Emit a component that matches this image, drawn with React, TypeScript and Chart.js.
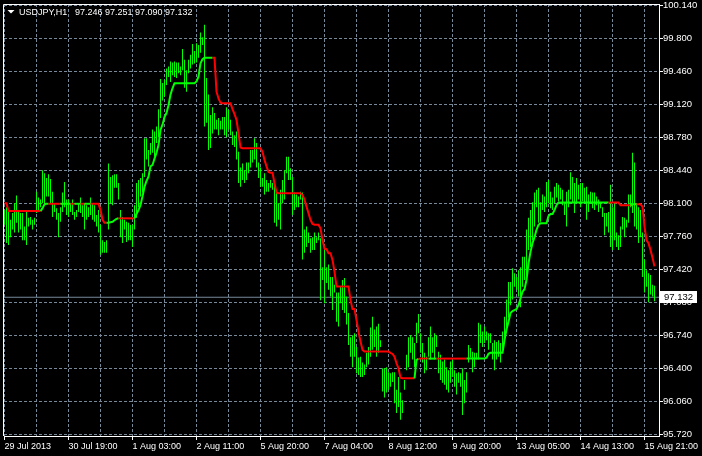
import React, { useEffect, useRef } from 'react';
import { Chart, registerables } from 'chart.js';

Chart.register(...registerables);

// ---------- data ----------
const SYMBOL = 'USDJPY,H1';
const LAST_OHLC = ['97.246', '97.251', '97.090', '97.132'];
const CURRENT_PRICE = 97.132;

const X_LABELS = [
  '29 Jul 2013', '30 Jul 19:00', '1 Aug 03:00', '2 Aug 11:00', '5 Aug 20:00', '7 Aug 04:00',
  '8 Aug 12:00', '9 Aug 20:00', '13 Aug 05:00', '14 Aug 13:00', '15 Aug 21:00',
];
const BARS_PER_LABEL = 32;
const BARS_PER_GRID = 16;

const Y_TICKS = [95.72, 96.06, 96.40, 96.74, 97.08, 97.42, 97.76, 98.10, 98.44, 98.78, 99.12, 99.46, 99.80, 100.14];

const HIGH = [
  98.03, 98.06, 98.01, 97.93, 98.00, 98.10, 98.18, 98.03, 98.00, 98.00,
  97.86, 98.01, 97.95, 97.96, 97.93, 97.95, 98.22, 98.16, 98.14, 98.44,
  98.41, 98.36, 98.40, 98.35, 98.22, 98.10, 98.05, 98.00, 98.06, 98.21,
  98.32, 98.14, 98.14, 98.10, 98.14, 98.01, 98.03, 98.10, 98.16, 98.08,
  98.10, 98.08, 98.06, 98.16, 98.10, 98.08, 97.98, 98.03, 97.88, 97.72,
  97.70, 97.72, 98.51, 98.37, 98.39, 98.40, 98.40, 98.31, 98.03, 97.96,
  97.93, 97.91, 97.90, 97.88, 97.88, 98.08, 98.31, 98.34, 98.36, 98.41,
  98.77, 98.77, 98.65, 98.72, 98.86, 98.84, 98.89, 99.07, 99.38, 99.34,
  99.37, 99.49, 99.51, 99.56, 99.55, 99.56, 99.55, 99.55, 99.51, 99.69,
  99.58, 99.47, 99.58, 99.63, 99.74, 99.67, 99.75, 99.73, 99.86, 99.81,
  99.94, 99.39, 99.22, 99.01, 99.09, 99.03, 98.96, 98.98, 98.95, 98.99,
  98.99, 99.09, 99.06, 98.96, 98.84, 98.80, 98.84, 98.63, 98.47, 98.51,
  98.44, 98.52, 98.52, 98.65, 98.65, 98.77, 98.72, 98.52, 98.47, 98.36,
  98.41, 98.34, 98.31, 98.34, 98.31, 98.32, 98.21, 98.10, 98.24, 98.34,
  98.44, 98.58, 98.58, 98.46, 98.37, 98.21, 98.19, 98.17, 98.22, 98.21,
  97.83, 97.86, 97.80, 97.74, 97.75, 97.80, 97.75, 97.80, 97.74, 97.44,
  97.62, 97.44, 97.47, 97.34, 97.34, 97.26, 97.18, 97.18, 97.24, 97.31,
  97.33, 97.14, 96.97, 96.72, 96.74, 96.76, 96.62, 96.51, 96.52, 96.46,
  96.44, 96.56, 96.62, 96.82, 96.93, 96.80, 96.83, 96.86, 96.69, 96.40,
  96.40, 96.41, 96.36, 96.35, 96.36, 96.36, 96.18, 96.31, 96.15, 96.07,
  96.28, 96.54, 96.72, 96.74, 96.72, 96.66, 96.87, 96.96, 96.76, 96.66,
  96.56, 96.52, 96.72, 96.83, 96.72, 96.76, 96.74, 96.57, 96.54, 96.47,
  96.49, 96.41, 96.38, 96.47, 96.49, 96.38, 96.35, 96.36, 96.35, 96.40,
  96.28, 96.36, 96.64, 96.61, 96.57, 96.56, 96.56, 96.87, 96.85, 96.78,
  96.83, 96.78, 96.76, 96.76, 96.66, 96.69, 96.67, 96.69, 96.66, 96.78,
  96.93, 97.11, 97.29, 97.29, 97.43, 97.38, 97.34, 97.41, 97.44, 97.55,
  97.55, 97.83, 97.95, 98.03, 98.11, 98.21, 98.24, 98.26, 98.11, 98.19,
  98.17, 98.32, 98.34, 98.22, 98.16, 98.27, 98.31, 98.29, 98.26, 98.24,
  98.11, 98.22, 98.24, 98.42, 98.37, 98.31, 98.36, 98.29, 98.31, 98.31,
  98.26, 98.27, 98.19, 98.22, 98.21, 98.21, 98.17, 98.14, 98.11, 98.06,
  98.00, 98.00, 98.01, 98.29, 98.06, 98.10, 97.80, 97.77, 97.86, 97.96,
  97.95, 97.93, 98.19, 98.19, 98.62, 98.52, 98.10, 98.06, 98.03, 97.80,
  97.52, 97.41, 97.38, 97.36, 97.26, 97.251,
];

const LOW = [
  97.88, 97.69, 97.67, 97.75, 97.83, 97.80, 97.90, 97.80, 97.83, 97.72,
  97.72, 97.67, 97.86, 97.88, 97.83, 97.88, 98.00, 98.03, 98.06, 98.10,
  98.10, 98.17, 98.17, 98.10, 97.96, 98.01, 97.93, 97.75, 97.91, 98.01,
  98.06, 97.98, 97.96, 98.01, 97.98, 97.93, 97.96, 98.01, 98.00, 97.96,
  97.83, 97.93, 97.96, 97.98, 97.93, 97.91, 97.86, 97.80, 97.57, 97.59,
  97.59, 97.59, 97.83, 98.10, 98.08, 98.26, 98.26, 98.14, 97.75, 97.69,
  97.83, 97.70, 97.72, 97.72, 97.65, 97.83, 97.95, 98.06, 98.17, 98.21,
  98.37, 98.55, 98.48, 98.60, 98.62, 98.58, 98.72, 98.78, 98.98, 99.16,
  99.20, 99.32, 99.40, 99.35, 99.42, 99.40, 99.39, 99.44, 99.42, 99.47,
  99.29, 99.25, 99.44, 99.49, 99.53, 99.54, 99.55, 99.60, 99.65, 99.73,
  98.89, 98.93, 98.65, 98.67, 98.82, 98.86, 98.86, 98.80, 98.86, 98.86,
  98.80, 98.78, 98.86, 98.80, 98.70, 98.68, 98.55, 98.31, 98.27, 98.34,
  98.31, 98.34, 98.41, 98.47, 98.52, 98.55, 98.47, 98.36, 98.27, 98.27,
  98.19, 98.22, 98.22, 98.26, 98.24, 97.90, 97.86, 97.93, 97.83, 98.10,
  98.14, 98.41, 98.34, 98.34, 97.98, 98.03, 98.06, 98.06, 98.14, 97.52,
  97.59, 97.65, 97.69, 97.59, 97.62, 97.62, 97.69, 97.72, 97.10, 97.31,
  97.07, 97.28, 97.21, 97.14, 97.00, 97.18, 96.88, 96.83, 97.07, 97.00,
  96.97, 96.85, 96.64, 96.52, 96.41, 96.52, 96.35, 96.33, 96.31, 96.31,
  96.33, 96.41, 96.44, 96.52, 96.59, 96.62, 96.52, 96.56, 96.62, 96.16,
  96.10, 96.15, 96.18, 96.21, 96.26, 96.04, 95.94, 96.00, 95.87, 95.94,
  96.18, 96.38, 96.41, 96.56, 96.49, 96.41, 96.66, 96.76, 96.56, 96.46,
  96.35, 96.38, 96.52, 96.49, 96.56, 96.49, 96.62, 96.35, 96.28, 96.25,
  96.23, 96.18, 96.15, 96.25, 96.31, 96.21, 96.13, 96.25, 96.21, 95.92,
  96.04, 96.15, 96.46, 96.51, 96.36, 96.41, 96.49, 96.49, 96.66, 96.62,
  96.66, 96.69, 96.59, 96.66, 96.49, 96.38, 96.49, 96.52, 96.46, 96.56,
  96.67, 96.80, 96.92, 97.05, 97.11, 97.24, 97.21, 97.14, 97.03, 97.24,
  97.31, 97.33, 97.62, 97.65, 97.72, 97.86, 98.06, 97.90, 97.91, 98.03,
  98.01, 98.06, 98.10, 98.05, 98.03, 98.10, 98.16, 98.12, 98.14, 98.08,
  97.98, 97.86, 98.06, 98.14, 98.10, 98.00, 98.10, 98.14, 98.06, 98.12,
  98.10, 97.93, 98.01, 98.10, 98.05, 98.03, 98.08, 98.01, 98.05, 97.96,
  97.77, 97.86, 97.80, 97.65, 97.62, 97.72, 97.65, 97.62, 97.65, 97.83,
  97.75, 97.85, 97.90, 98.06, 98.00, 97.86, 97.83, 97.69, 97.75, 97.34,
  97.18, 97.24, 97.08, 97.16, 97.14, 97.09,
];

const INDICATOR = [
  98.10, 98.10, 98.02, 98.02, 98.02, 98.02, 98.02, 98.02, 98.02, 98.02,
  98.02, 98.02, 98.02, 98.02, 98.02, 98.02, 98.02, 98.02, 98.02, 98.05,
  98.09, 98.095, 98.095, 98.095, 98.095, 98.095, 98.095, 98.095, 98.095, 98.095,
  98.095, 98.095, 98.095, 98.095, 98.095, 98.095, 98.095, 98.095, 98.095, 98.095,
  98.095, 98.095, 98.095, 98.095, 98.095, 98.095, 98.095, 98.095, 98.03, 97.93,
  97.90, 97.90, 97.90, 97.905, 97.91, 97.925, 97.94, 97.945, 97.945, 97.945,
  97.945, 97.945, 97.945, 97.945, 97.945, 97.945, 97.99, 98.03, 98.08, 98.17,
  98.27, 98.33, 98.375, 98.48, 98.495, 98.56, 98.62, 98.70, 98.855, 98.91,
  98.99, 99.03, 99.11, 99.22, 99.285, 99.337, 99.337, 99.337, 99.337, 99.337,
  99.337, 99.337, 99.337, 99.337, 99.337, 99.337, 99.355, 99.405, 99.543, 99.584,
  99.60, 99.60, 99.60, 99.60, 99.60, 99.60, 99.25, 99.18, 99.137, 99.13,
  99.13, 99.13, 99.13, 99.13, 99.07, 99.02, 98.96, 98.82, 98.674, 98.667,
  98.667, 98.667, 98.667, 98.667, 98.667, 98.667, 98.667, 98.667, 98.667, 98.63,
  98.547, 98.48, 98.423, 98.416, 98.416, 98.307, 98.21, 98.204, 98.204, 98.204,
  98.204, 98.204, 98.204, 98.204, 98.204, 98.204, 98.204, 98.204, 98.204, 98.186,
  98.135, 98.066, 97.997, 97.93, 97.888, 97.88, 97.88, 97.88, 97.843, 97.72,
  97.633, 97.627, 97.585, 97.585, 97.517, 97.396, 97.242, 97.242, 97.242, 97.242,
  97.242, 97.242, 97.242, 97.105, 97.01, 97.01, 96.898, 96.778, 96.675, 96.59,
  96.572, 96.572, 96.572, 96.572, 96.572, 96.572, 96.572, 96.572, 96.572, 96.572,
  96.572, 96.572, 96.572, 96.56, 96.548, 96.52, 96.452, 96.40, 96.304, 96.297,
  96.297, 96.297, 96.297, 96.297, 96.297, 96.297, 96.487, 96.497, 96.50, 96.50,
  96.50, 96.50, 96.50, 96.50, 96.50, 96.50, 96.50, 96.50, 96.50, 96.50,
  96.50, 96.50, 96.50, 96.50, 96.50, 96.50, 96.50, 96.50, 96.50, 96.50,
  96.50, 96.50, 96.50, 96.50, 96.50, 96.50, 96.50, 96.50, 96.50, 96.50,
  96.50, 96.51, 96.55, 96.56, 96.56, 96.56, 96.56, 96.56, 96.56, 96.56,
  96.69, 96.80, 96.88, 96.97, 96.99, 97.00, 97.01, 97.05, 97.12, 97.19,
  97.215, 97.31, 97.48, 97.60, 97.69, 97.75, 97.826, 97.877, 97.895, 97.895,
  97.895, 97.895, 97.97, 97.99, 97.99, 98.03, 98.08, 98.107, 98.107, 98.107,
  98.107, 98.107, 98.107, 98.107, 98.107, 98.107, 98.107, 98.107, 98.107, 98.107,
  98.107, 98.107, 98.107, 98.107, 98.107, 98.107, 98.107, 98.107, 98.107, 98.107,
  98.107, 98.107, 98.107, 98.107, 98.107, 98.107, 98.107, 98.107, 98.08, 98.08,
  98.08, 98.08, 98.08, 98.08, 98.09, 98.09, 98.09, 98.09, 98.09, 98.066,
  97.86, 97.72, 97.69, 97.62, 97.54, 97.45,
];

// bar index where the indicator switches colour: 'u' = rising (green), 'd' = falling (red)
const TREND_STARTS = [0, 19, 23, 29, 34, 36, 39, 41, 44, 52, 58, 66, 105, 206, 208, 213, 217, 232, 303, 314, 317];
const TREND_DIRS = ['d', 'u', 'd', 'u', 'd', 'u', 'd', 'u', 'd', 'u', 'd', 'u', 'd', 'u', 'd', 'u', 'd', 'u', 'd', 'u', 'd'];

// ---------- styling ----------
const LIME = '#00ff00';
const RED = '#ff0000';
const GRID = '#778899';
const FONT = "'Liberation Sans', Arial, sans-serif";
const X_MIN = -0.25;
const X_MAX = 327.25;
const Y_MIN = 95.7025;
const Y_MAX = 100.1534;

function trendAt(i: number): string {
  let d = TREND_DIRS[0];
  for (let j = 0; j < TREND_STARTS.length; j++) {
    if (TREND_STARTS[j] <= i) d = TREND_DIRS[j];
  }
  return d;
}

export default function App() {
  const ref = useRef<HTMLCanvasElement>(null);

  useEffect(() => {
    const canvas = ref.current;
    if (!canvas) return;

    const bars = HIGH.map((h, i) => ({ x: i, y: [LOW[i], h] }));
    const ind = INDICATOR.map((v, i) => ({ x: i, y: v }));
    const xTicks: number[] = [];
    for (let v = 0; v <= (X_LABELS.length - 1) * BARS_PER_LABEL; v += BARS_PER_GRID) xTicks.push(v);

    const mt4Plugin = {
      id: 'mt4',
      afterDraw(chart: any) {
        const { ctx, chartArea: a } = chart;
        ctx.save();
        // frame (left and top)
        ctx.strokeStyle = '#ffffff';
        ctx.lineWidth = 1;
        ctx.beginPath();
        ctx.moveTo(a.left - 0.5, a.bottom);
        ctx.lineTo(a.left - 0.5, a.top + 0.5);
        ctx.lineTo(a.right, a.top + 0.5);
        ctx.stroke();

        // current price box
        const py = chart.scales.y.getPixelForValue(CURRENT_PRICE);
        ctx.fillStyle = '#ffffff';
        ctx.fillRect(a.right + 1, Math.round(py) - 6, 37, 12);
        ctx.fillStyle = '#000000';
        ctx.font = `9.5px ${FONT}`;
        ctx.textBaseline = 'middle';
        ctx.textAlign = 'left';
        ctx.fillText(CURRENT_PRICE.toFixed(3), a.right + 5, Math.round(py) + 0.5);

        // title
        ctx.fillStyle = '#ffffff';
        ctx.beginPath();
        ctx.moveTo(7.5, 10);
        ctx.lineTo(14.5, 10);
        ctx.lineTo(11, 13.5);
        ctx.closePath();
        ctx.fill();
        ctx.font = `9px ${FONT}`;
        ctx.textBaseline = 'alphabetic';
        ctx.fillText(SYMBOL, 19, 15);
        ctx.fillText(LAST_OHLC.join(' '), 75, 15);
        ctx.restore();
      },
    };

    const chart = new Chart(canvas, {
      type: 'bar',
      data: {
        datasets: [
          {
            type: 'line',
            data: ind,
            order: 0,
            borderWidth: 2,
            borderColor: RED,
            pointRadius: 0,
            tension: 0,
            segment: {
              borderColor: (c: any) => (trendAt(c.p1DataIndex) === 'u' ? LIME : RED),
            },
          } as any,
          {
            type: 'bar',
            data: bars,
            order: 1,
            backgroundColor: LIME,
            borderWidth: 0,
            barThickness: 1,
            inflateAmount: 0,
            grouped: false,
          } as any,
          {
            type: 'line',
            data: [
              { x: X_MIN, y: CURRENT_PRICE },
              { x: X_MAX, y: CURRENT_PRICE },
            ],
            order: 2,
            borderWidth: 1,
            borderColor: GRID,
            pointRadius: 0,
          } as any,
        ],
      },
      options: {
        responsive: false,
        animation: false,
        devicePixelRatio: 1,
        layout: { padding: { left: 4, top: 4, right: 0, bottom: 0 } },
        plugins: { legend: { display: false }, tooltip: { enabled: false } },
        scales: {
          x: {
            type: 'linear',
            position: 'bottom',
            min: X_MIN,
            max: X_MAX,
            bounds: 'data',
            offset: false,
            afterBuildTicks: (s: any) => {
              s.ticks = xTicks.map((v) => ({ value: v }));
            },
            afterFit: (s: any) => {
              s.height = 20;
              s.paddingLeft = 0;
              s.paddingRight = 0;
            },
            ticks: {
              autoSkip: false,
              maxRotation: 0,
              minRotation: 0,
              align: 'start',
              color: '#ffffff',
              padding: 1,
              font: { family: FONT, size: 9 },
              callback: (v: any) => (Number(v) % BARS_PER_LABEL === 0 ? X_LABELS[Number(v) / BARS_PER_LABEL] : ''),
            },
            grid: {
              offset: false,
              color: GRID,
              lineWidth: 1,
              tickLength: 4,
              tickColor: (c: any) => (c.tick && c.tick.value % BARS_PER_LABEL === 0 ? '#ffffff' : 'rgba(0,0,0,0)'),
            },
            border: { color: '#ffffff', width: 1, dash: [3, 2] },
          } as any,
          y: {
            position: 'right',
            min: Y_MIN,
            max: Y_MAX,
            bounds: 'data',
            afterBuildTicks: (s: any) => {
              s.ticks = Y_TICKS.map((v) => ({ value: v }));
            },
            afterFit: (s: any) => {
              s.width = 43;
              s.paddingTop = 0;
              s.paddingBottom = 0;
            },
            ticks: {
              autoSkip: false,
              color: '#ffffff',
              padding: 0,
              font: { family: FONT, size: 9.5 },
              callback: (v: any) => Number(v).toFixed(3),
            },
            grid: { color: GRID, lineWidth: 1, tickLength: 4, tickColor: '#ffffff' },
            border: { color: '#ffffff', width: 1, dash: [3, 2] },
          } as any,
        },
      },
      plugins: [mt4Plugin],
    } as any);

    return () => chart.destroy();
  }, []);

  return (
    <div style={{ position: 'fixed', left: 0, top: 0, width: 702, height: 456, background: '#000000' }}>
      <canvas ref={ref} width={702} height={456} style={{ display: 'block', width: 702, height: 456 }} />
    </div>
  );
}
